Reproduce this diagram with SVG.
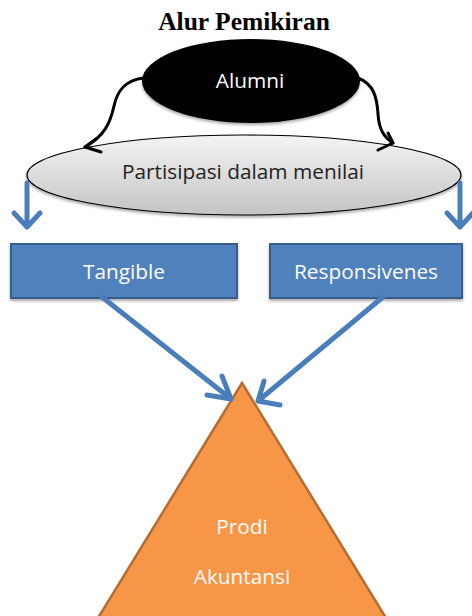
<svg xmlns="http://www.w3.org/2000/svg" width="472" height="616" viewBox="0 0 472 616">
<defs>
<linearGradient id="g" x1="0" y1="0" x2="0" y2="1">
<stop offset="0" stop-color="#f4f4f4"/>
<stop offset="1" stop-color="#c4c4c4"/>
</linearGradient>
<filter id="sh" x="-10%" y="-10%" width="120%" height="130%">
<feGaussianBlur in="SourceAlpha" stdDeviation="1.5"/>
<feOffset dx="0" dy="2" result="b"/>
<feComponentTransfer><feFuncA type="linear" slope="0.35"/></feComponentTransfer>
<feMerge><feMergeNode/><feMergeNode in="SourceGraphic"/></feMerge>
</filter>
</defs>
<style>
.lbl{font-family:"Open Sans","Noto Sans","Liberation Sans",sans-serif;font-size:20.8px;text-anchor:middle}
.w{fill:#ffffff}
.blue{fill:none;stroke:#4a7ebb;stroke-width:5;stroke-linecap:round;stroke-linejoin:round}
.blk{fill:none;stroke:#000;stroke-width:3;stroke-linecap:round;stroke-linejoin:round}
</style>
<rect width="472" height="616" fill="#ffffff"/>
<text x="244" y="30" font-family="'Liberation Serif','Times New Roman',serif" font-size="25.5" font-weight="bold" text-anchor="middle">Alur Pemikiran</text>

<g id="alumni">
<ellipse cx="251" cy="81" rx="109" ry="42" fill="#000" filter="url(#sh)"/>
<text class="lbl w" x="250" y="88">Alumni</text>
</g>

<g id="partisipasi">
<ellipse cx="244" cy="175" rx="217" ry="40" fill="url(#g)" stroke="#000" stroke-width="1.2" filter="url(#sh)"/>
<text class="lbl" x="243" y="179" fill="#222">Partisipasi dalam menilai</text>
</g>

<g id="tangible">
<rect x="11" y="244" width="226" height="54" fill="#4f81bd" stroke="#385d8a" stroke-width="2" filter="url(#sh)"/>
<text class="lbl w" x="124" y="279">Tangible</text>
</g>

<g id="responsivenes">
<rect x="270" y="244" width="192" height="54" fill="#4f81bd" stroke="#385d8a" stroke-width="2" filter="url(#sh)"/>
<text class="lbl w" x="366" y="279">Responsivenes</text>
</g>

<g id="prodi">
<polygon points="242,383 98,618 386,618" fill="#f79646" stroke="#b66d31" stroke-width="2.5"/>
<text class="lbl w" x="242" y="534">Prodi</text>
<text class="lbl w" x="242" y="584">Akuntansi</text>
</g>

<g id="connectors">
<path class="blk" d="M144 78 C124 80 117 92 114 106 C110 124 104 136 85 147"/>
<path class="blk" d="M96 139 L85 147 L101 152"/>
<path class="blk" d="M358 78 C374 84 377 98 378 114 C379 130 384 137 393 143"/>
<path class="blk" d="M378 150 L393 143 L388 133"/>
<path class="blue" d="M27 183 V227 M14 213 L27 227 L40 213"/>
<path class="blue" d="M460 183 V227 M447 213 L460 227 L473 213"/>
<path class="blue" d="M102 297 L231 399 M207 395 L231 399 L222 376"/>
<path class="blue" d="M383 297 L258 401 M280 405 L258 401 L264 381"/>
</g>
</svg>
